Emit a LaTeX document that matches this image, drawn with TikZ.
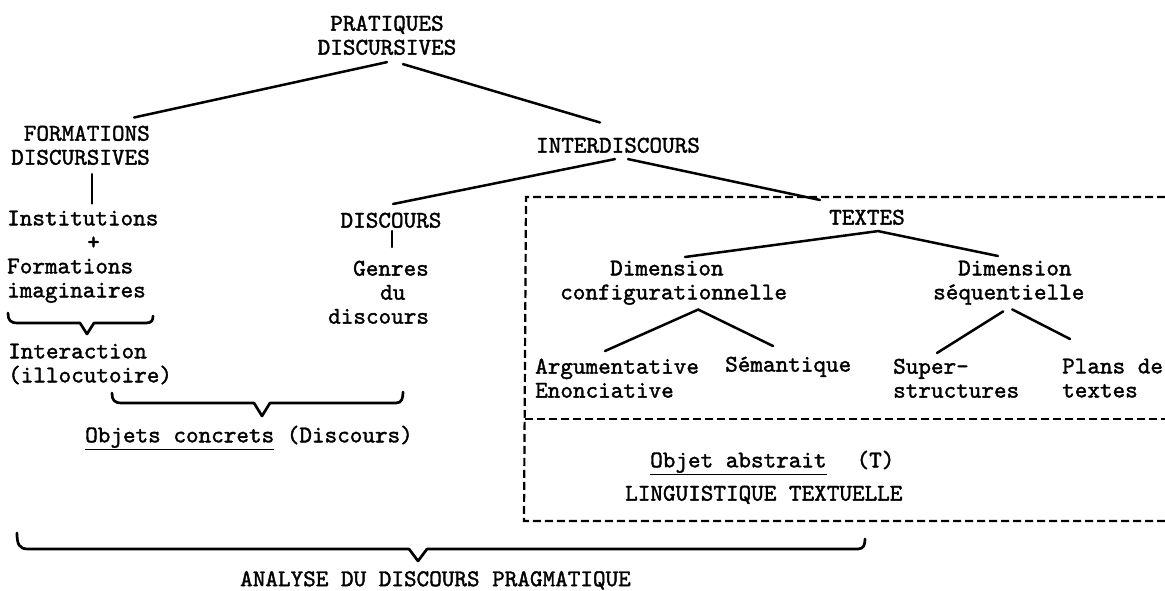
\documentclass[tikz,border=0pt]{standalone}
\usepackage{fontspec}
\newfontfamily\tw[FakeBold=1.5]{lmmono10-regular.otf}
\usetikzlibrary{calc}

\tikzset{
	txt/.style={inner sep=0pt, font=\tw\fontsize{24}{24}\selectfont},
	link/.style={line width=2.5pt, line cap=round},
	brace/.style={line width=2.7pt, line join=round, line cap=round},
	dashbox/.style={line width=2.2pt, dash pattern=on 8pt off 4pt}
}

\begin{document}
\begin{tikzpicture}[x=1pt, y=-1pt]
			%%%%% START %%%%%
			\fill[white] (0,0) rectangle (1165,591);
			\useasboundingbox (0,0) rectangle (1165,591);
			
			\node[txt, anchor=north, align=center] (prat) at (387,15.5) {PRATIQUES\\DISCURSIVES};
			\node[txt, anchor=north east, align=right] (form) at (150,125.5) {FORMATIONS\\DISCURSIVES};
			\node[txt, anchor=north west, align=left] (inst) at (7,210.5) {Institutions\\\hspace*{80pt}+\\Formations\\imaginaires};
			\node[txt, anchor=north west, align=left] (inter) at (8,343.5) {Interaction\\(illocutoire)};
			\node[txt, anchor=north] (disc) at (391,212.5) {DISCOURS};
			\node[txt, anchor=north west, align=left] (genres) at (328,260.5) {\hspace*{25pt}Genres\\\hspace*{52pt}du\\discours};
			\node[txt, anchor=north] (interd) at (618,137.5) {INTERDISCOURS};
			\node[txt, anchor=north] (textes) at (867,209.5) {TEXTES};
			
			\node[txt, anchor=north west, align=left] (dimc) at (560,260.5) {\hspace*{50pt}Dimension\\configurationnelle};
			\node[txt, anchor=north west, align=left] (dims) at (933,260.5) {\hspace*{25pt}Dimension\\séquentielle};
			\node[txt, anchor=north west, align=left] (argu) at (535,358.5) {Argumentative\\Enonciative};
			\node[txt, anchor=north west] (sema) at (725,356.5) {Sémantique};
			\node[txt, anchor=north west, align=left] (super) at (893,358.5) {Super-\\structures};
			\node[txt, anchor=north west, align=left] (plans) at (1062,358.5) {Plans de\\textes};
			
			\node[txt, anchor=north west] (objc) at (85,425.5) {\underline{Objets concrets} (Discours)};
			\node[txt, anchor=north west] (obja) at (650,450.5) {\underline{Objet abstrait}\hspace{30pt}(T)};
			\node[txt, anchor=north west] (ling) at (625,485.5) {LINGUISTIQUE TEXTUELLE};
			\node[txt, anchor=north west] (analyse) at (240,571) {ANALYSE DU DISCOURS PRAGMATIQUE};
			
			% tree
			\draw[link] ([yshift=-7pt]prat.south) -- ([xshift=-16pt,yshift=8pt]form.north east);
			\draw[link] ([xshift=16pt,yshift=-9pt]prat.south) -- ([xshift=-18pt,yshift=15pt]interd.north);
			\draw[link] ([xshift=-58pt,yshift=-9pt]form.south east) -- ([xshift=85pt,yshift=7pt]inst.north west);
			\draw[link] ([xshift=-3pt,yshift=-6pt]interd.south) -- ([xshift=2pt,yshift=8.5pt]disc.north);
			\draw[link] ([xshift=10pt,yshift=-6pt]interd.south) -- ([xshift=-47pt,yshift=9.5pt]textes.north);
			\draw[link] ([xshift=1pt,yshift=-3pt]disc.south) -- ([xshift=64pt,yshift=13.5pt]genres.north west);
			\draw[link] ([xshift=125pt,yshift=3.5pt]dimc.north west) -- ([xshift=11pt,yshift=-6pt]textes.south) -- ([xshift=65pt,yshift=4.5pt]dims.north west);
			\draw[link] ([xshift=70pt,yshift=7.5pt]argu.north west) -- ([xshift=24.6pt,yshift=-4.5pt]dimc.south) -- ([xshift=48pt,yshift=10.5pt]sema.north west);
			\draw[link] ([xshift=-5.6pt,yshift=-6.5pt]dims.south) -- ([xshift=44pt,yshift=5.5pt]super.north west);
			\draw[link] ([xshift=3.4pt,yshift=-4.5pt]dims.south) -- ([xshift=8pt,yshift=19.5pt]plans.north west);
			
			% dashed frame
			\draw[dashbox] (1165,197) -- (526,197) -- (524,521) -- (1165,521);
			\draw[dashbox] (525,419) -- (1165,419);
			
			% braces
			\draw[brace] (8,313) .. controls (8,320) and (10,323) .. (18,323) -- (80,323) -- (87,334) -- (94,323) -- (146,323) .. controls (152,323) and (153,320) .. (153,316);
			\draw[brace] (112,393) .. controls (112,400) and (114,403) .. (122,403) -- (254,403) -- (262,416) -- (270,403) -- (396,403) .. controls (402,403) and (403,398) .. (403,392);
			\draw[brace] (17,533) .. controls (17,544) and (19,549) .. (28,549) -- (409,549) -- (418,561) -- (427,549) -- (858,549) .. controls (864,549) and (865,544) .. (865,539);
			%%%%% END %%%%%
\end{tikzpicture}
\end{document}
